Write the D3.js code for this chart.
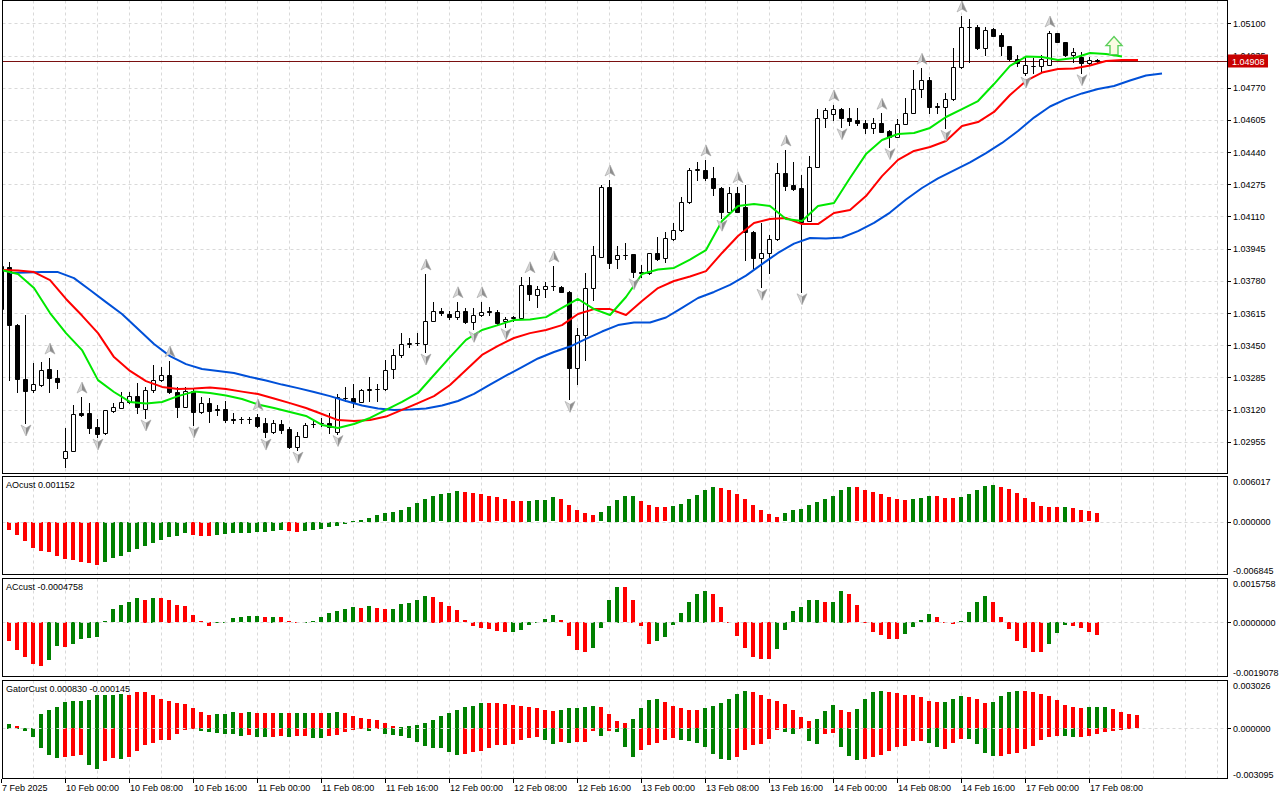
<!DOCTYPE html>
<html lang="en">
  <head>
    <meta charset="utf-8">
    <title>EURUSD, H1 - Alligator / AO / AC / Gator</title>
    <script src="https://cdn.jsdelivr.net/npm/d3@7/dist/d3.min.js" charset="utf-8"></script>
    <style type="text/css">
      body { margin:0; background:#fff; }
      svg { display:block; }
      text { font-family:"Liberation Sans", Arial, sans-serif; font-size:9px; fill:#000; }
    </style>
  </head>
  <body>
    <div id="main"></div>
<script type="text/javascript">

////////////////////////////////////////////////////////////////////////////////
/////////////////////////////////// data ///////////////////////////////////////
////////////////////////////////////////////////////////////////////////////////

// H1 candles, bar 0 = 7 Feb 16:00
var opens = [
  1.03635,1.03851,1.03553,1.03277,1.03220,1.03246,1.03328,1.03282,1.02871,1.02907,
  1.03102,1.03102,1.03030,1.03000,1.03112,1.03128,1.03159,1.03189,1.03123,1.03220,
  1.03271,1.03297,1.03210,1.03133,1.03215,1.03107,1.03153,1.03123,1.03123,1.03071,
  1.03071,1.03073,1.03082,1.03051,1.03005,1.03046,1.03020,1.02928,1.02979,1.03046,
  1.03049,1.03051,1.03005,1.03179,1.03179,1.03159,1.03220,1.03223,1.03225,1.03328,
  1.03400,1.03457,1.03461,1.03456,1.03575,1.03627,1.03610,1.03593,1.03627,1.03570,
  1.03605,1.03625,1.03618,1.03574,1.03592,1.03588,1.03757,1.03707,1.03737,1.03751,
  1.03750,1.03724,1.03331,1.03502,1.03742,1.03904,1.04260,1.03890,1.03912,1.03916,
  1.03827,1.03819,1.03921,1.03895,1.03993,1.04041,1.04186,1.04348,1.04348,1.04306,
  1.04254,1.04134,1.04229,1.04160,1.04032,1.03895,1.03924,1.03993,1.04331,1.04271,
  1.04254,1.04088,1.04365,1.04613,1.04635,1.04660,1.04613,1.04605,1.04591,1.04562,
  1.04588,1.04550,1.04519,1.04584,1.04642,1.04762,1.04810,1.04673,1.04670,1.04711,
  1.04878,1.05080,1.05080,1.04972,1.05070,1.05041,1.04984,1.04916,1.04847,1.04882,
  1.04882,1.04887,1.05049,1.05006,1.04938,1.04929,1.04895,1.04910]
var highs = [
  1.03871,1.03876,1.03559,1.03605,1.03359,1.03364,1.03384,1.03323,1.03025,1.03143,
  1.03184,1.03153,1.03071,1.03118,1.03153,1.03210,1.03210,1.03256,1.03236,1.03348,
  1.03338,1.03369,1.03236,1.03236,1.03230,1.03184,1.03179,1.03143,1.03164,1.03102,
  1.03082,1.03082,1.03097,1.03077,1.03066,1.03066,1.03030,1.03005,1.03051,1.03061,
  1.03077,1.03102,1.03200,1.03236,1.03251,1.03225,1.03287,1.03251,1.03374,1.03430,
  1.03512,1.03487,1.03512,1.03815,1.03673,1.03639,1.03627,1.03673,1.03639,1.03639,
  1.03673,1.03647,1.03630,1.03596,1.03600,1.03798,1.03801,1.03753,1.03775,1.03856,
  1.03753,1.03728,1.03537,1.03822,1.03959,1.04271,1.04297,1.03959,1.03972,1.03918,
  1.03861,1.03923,1.04003,1.04032,1.04078,1.04211,1.04357,1.04391,1.04400,1.04362,
  1.04263,1.04263,1.04263,1.04271,1.04035,1.04075,1.04015,1.04383,1.04451,1.04391,
  1.04323,1.04420,1.04660,1.04665,1.04682,1.04665,1.04665,1.04665,1.04605,1.04613,
  1.04639,1.04553,1.04608,1.04716,1.04861,1.04870,1.04824,1.04692,1.04742,1.04972,
  1.05138,1.05121,1.05092,1.05083,1.05075,1.05049,1.04986,1.04938,1.04921,1.04921,
  1.04938,1.05061,1.05052,1.05006,1.04972,1.04955,1.04926,1.04915]
var lows = [
  1.03620,1.03271,1.03210,1.03051,1.03210,1.03241,1.03210,1.03230,1.02825,1.02907,
  1.03087,1.03000,1.02979,1.02994,1.03107,1.03128,1.03153,1.03102,1.03077,1.03210,
  1.03266,1.03205,1.03082,1.03133,1.03041,1.03102,1.03056,1.03092,1.03056,1.03051,
  1.03051,1.03051,1.03030,1.02979,1.03000,1.03000,1.02923,1.02912,1.02979,1.03030,
  1.03036,1.03000,1.02997,1.03164,1.03133,1.03159,1.03164,1.03164,1.03220,1.03282,
  1.03389,1.03441,1.03451,1.03415,1.03574,1.03605,1.03583,1.03583,1.03562,1.03531,
  1.03602,1.03605,1.03553,1.03545,1.03576,1.03587,1.03682,1.03647,1.03699,1.03733,
  1.03721,1.03172,1.03251,1.03374,1.03682,1.03902,1.03844,1.03844,1.03890,1.03801,
  1.03800,1.03817,1.03887,1.03878,1.03989,1.04037,1.04181,1.04297,1.04297,1.04220,
  1.04101,1.04133,1.04133,1.03887,1.03844,1.03747,1.03819,1.03989,1.04246,1.04246,
  1.03724,1.04087,1.04364,1.04570,1.04605,1.04570,1.04579,1.04579,1.04536,1.04536,
  1.04543,1.04468,1.04517,1.04582,1.04639,1.04724,1.04639,1.04639,1.04562,1.04707,
  1.04870,1.04904,1.04967,1.04938,1.05035,1.04938,1.04912,1.04882,1.04835,1.04844,
  1.04852,1.04887,1.05005,1.04933,1.04904,1.04847,1.04892,1.04902]
var closes = [
  1.03856,1.03553,1.03277,1.03215,1.03251,1.03323,1.03282,1.03261,1.02907,1.03097,
  1.03092,1.03025,1.02994,1.03118,1.03133,1.03159,1.03189,1.03133,1.03220,1.03271,
  1.03297,1.03210,1.03133,1.03215,1.03107,1.03153,1.03112,1.03118,1.03066,1.03069,
  1.03073,1.03071,1.03036,1.03005,1.03051,1.03015,1.02928,1.02984,1.03041,1.03045,
  1.03051,1.03030,1.03184,1.03181,1.03159,1.03220,1.03223,1.03225,1.03323,1.03400,
  1.03456,1.03461,1.03459,1.03575,1.03627,1.03613,1.03593,1.03627,1.03570,1.03605,
  1.03622,1.03620,1.03562,1.03582,1.03593,1.03757,1.03711,1.03737,1.03753,1.03754,
  1.03724,1.03331,1.03502,1.03742,1.03912,1.04260,1.03870,1.03912,1.03915,1.03827,
  1.03820,1.03921,1.03892,1.03998,1.04041,1.04186,1.04348,1.04351,1.04306,1.04254,
  1.04134,1.04229,1.04134,1.04032,1.03895,1.03921,1.03993,1.04331,1.04266,1.04249,
  1.04083,1.04365,1.04613,1.04656,1.04660,1.04613,1.04601,1.04588,1.04562,1.04591,
  1.04545,1.04519,1.04584,1.04642,1.04762,1.04810,1.04673,1.04675,1.04711,1.04878,
  1.05080,1.05082,1.04972,1.05066,1.05037,1.04984,1.04916,1.04899,1.04887,1.04880,
  1.04916,1.05049,1.05006,1.04938,1.04952,1.04895,1.04912,1.04908]

// alligator, read every 2nd bar (jaw on odd bars 1..145, teeth/lips on even bars)
var lineStep = 2
var jawFirstBar = 1
var jawValues = [
  1.03820,1.03823,1.03825,1.03825,1.03794,1.03733,1.03671,1.03610,1.03533,1.03456,
  1.03394,1.03353,1.03328,1.03318,1.03307,1.03287,1.03269,1.03248,1.03230,1.03210,
  1.03189,1.03164,1.03141,1.03125,1.03118,1.03120,1.03125,1.03141,1.03164,1.03200,
  1.03248,1.03294,1.03338,1.03382,1.03415,1.03443,1.03482,1.03520,1.03553,1.03566,
  1.03566,1.03592,1.03641,1.03692,1.03723,1.03759,1.03807,1.03866,1.03923,1.03971,
  1.04000,1.03997,1.04002,1.04035,1.04077,1.04130,1.04197,1.04256,1.04305,1.04346,
  1.04387,1.04435,1.04487,1.04548,1.04617,1.04674,1.04712,1.04741,1.04764,1.04779,
  1.04807,1.04833,1.04843]
var teethFirstBar = 0
var teethValues = [
  1.03835,1.03833,1.03825,1.03784,1.03687,1.03602,1.03512,1.03389,1.03318,1.03266,
  1.03236,1.03225,1.03228,1.03233,1.03225,1.03212,1.03200,1.03177,1.03153,1.03128,
  1.03097,1.03066,1.03061,1.03066,1.03084,1.03118,1.03153,1.03189,1.03246,1.03323,
  1.03400,1.03446,1.03487,1.03512,1.03528,1.03553,1.03610,1.03635,1.03635,1.03605,
  1.03677,1.03743,1.03779,1.03802,1.03830,1.03923,1.04010,1.04077,1.04097,1.04102,
  1.04071,1.04071,1.04128,1.04143,1.04215,1.04317,1.04400,1.04446,1.04466,1.04497,
  1.04574,1.04594,1.04646,1.04733,1.04805,1.04848,1.04866,1.04869,1.04884,1.04907,
  1.04912,1.04912]
var lipsFirstBar = 0
var lipsValues = [
  1.03835,1.03815,1.03743,1.03615,1.03512,1.03425,1.03271,1.03210,1.03159,1.03151,
  1.03159,1.03189,1.03212,1.03205,1.03192,1.03174,1.03146,1.03128,1.03107,1.03087,
  1.03041,1.03025,1.03046,1.03077,1.03118,1.03159,1.03205,1.03297,1.03389,1.03477,
  1.03528,1.03553,1.03579,1.03582,1.03594,1.03641,1.03687,1.03635,1.03605,1.03697,
  1.03815,1.03838,1.03846,1.03889,1.03938,1.04087,1.04164,1.04174,1.04164,1.04097,
  1.04087,1.04164,1.04179,1.04307,1.04430,1.04502,1.04533,1.04538,1.04564,1.04620,
  1.04661,1.04702,1.04789,1.04882,1.04930,1.04928,1.04912,1.04923,1.04948,1.04943,
  1.04930]

// fractals (bar indexes)
var upFractals = [6,10,21,32,53,57,60,66,69,76,88,92,98,104,110,115,120,131]
var downFractals = [3,12,18,24,33,37,42,53,59,63,71,79,90,95,100,105,111,118,128,135]

// signal arrow
var signalBars = [139]
var signalPrices = [1.04940]

var lastPrice = 1.04908

var aoValues = [
  -0.0001,-0.0010,-0.0017,-0.0025,-0.0034,-0.0038,-0.0039,-0.0045,-0.0049,-0.0050,
  -0.0053,-0.0054,-0.0056,-0.0052,-0.0047,-0.0045,-0.0040,-0.0035,-0.0032,-0.0028,
  -0.0024,-0.0020,-0.0018,-0.0015,-0.0017,-0.0018,-0.0019,-0.0017,-0.0016,-0.0015,
  -0.00148,-0.0014,-0.00135,-0.0013,-0.0012,-0.0011,-0.0012,-0.00125,-0.0012,-0.0010,
  -0.0009,-0.0007,-0.0005,-0.0002,0.0001,0.0002,0.00055,0.0009,0.0011,0.0013,
  0.0016,0.0020,0.0025,0.0030,0.0034,0.0036,0.0038,0.0041,0.0039,0.0038,
  0.0036,0.0034,0.0032,0.0030,0.0028,0.00278,0.0028,0.00282,0.0029,0.0032,
  0.0030,0.00225,0.0016,0.00115,0.0009,0.00123,0.0021,0.0029,0.0034,0.00342,
  0.00276,0.00217,0.0020,0.0019,0.00204,0.0024,0.0030,0.0035,0.0042,0.0046,
  0.0044,0.0042,0.0037,0.0030,0.00225,0.0016,0.0010,0.0007,0.0011,0.0016,
  0.00175,0.00225,0.0026,0.0030,0.0034,0.0042,0.00455,0.00452,0.0042,0.0039,
  0.00365,0.0033,0.0030,0.0029,0.0030,0.00315,0.0034,0.00338,0.00315,0.00313,
  0.0033,0.0037,0.0042,0.0047,0.0048,0.00455,0.0043,0.0038,0.00315,0.0026,
  0.0021,0.0020,0.00198,0.0020,0.00187,0.0016,0.00136,0.001152]

var acValues = [
  -0.00038,-0.00067,-0.00099,-0.00123,-0.00151,-0.00158,-0.00134,-0.00085,-0.00088,-0.00078,
  -0.0006,-0.00057,-0.00053,0.00005,0.00046,0.0006,0.00074,0.00085,0.00081,0.00088,
  0.00085,0.00081,0.0006,0.00057,0.00026,0.00003,-0.00015,-0.00003,0.00002,0.00015,
  0.00019,0.00022,0.00023,0.00019,0.0002,0.00019,0.00003,-0.00002,0.00001,0.00005,
  0.00019,0.00033,0.0004,0.00046,0.00053,0.0005,0.00057,0.0005,0.00046,0.00047,
  0.00064,0.00067,0.00078,0.00092,0.00091,0.00074,0.00057,0.00043,0.00008,-0.00015,
  -0.00021,-0.00026,-0.00033,-0.00036,-0.00035,-0.00029,-0.0001,-0.00002,0.00012,0.00026,
  0.00008,-0.0005,-0.00099,-0.00106,-0.00092,-0.00022,0.00078,0.00127,0.00126,0.00081,
  -0.00015,-0.00078,-0.00067,-0.00052,-0.00012,0.00033,0.00071,0.00099,0.00113,0.00099,
  0.00053,-0.00001,-0.0005,-0.00092,-0.00123,-0.0013,-0.00131,-0.00095,-0.00029,0.0004,
  0.00053,0.00078,0.00081,0.00071,0.00074,0.00113,0.00102,0.0006,-0.00001,-0.00036,
  -0.00046,-0.0006,-0.00061,-0.00043,-0.00019,0.00008,0.00029,0.00019,-0.00001,-0.00008,
  0.00005,0.00036,0.00071,0.00092,0.00071,0.00019,-0.00026,-0.00067,-0.00092,-0.00106,
  -0.00107,-0.00078,-0.0004,-0.00012,-0.00015,-0.00022,-0.00036,-0.0004758]

// gator: upper runs to bar 142, lower to bar 140
var gatorUp = [
  0.00025,0.00025,0.00014,0.00004,0.00002,0.00091,0.00117,0.00132,0.00167,0.00173,
  0.00174,0.00175,0.00210,0.00211,0.00212,0.00213,0.00210,0.00229,0.00229,0.00210,
  0.00187,0.00169,0.00159,0.00150,0.00126,0.00103,0.00082,0.00089,0.00090,0.00101,
  0.00097,0.00101,0.00097,0.00096,0.00095,0.00097,0.00096,0.00097,0.00098,0.00096,
  0.00095,0.00097,0.00101,0.00097,0.00080,0.00068,0.00060,0.00052,0.00035,0.00014,
  0.00010,0.00014,0.00019,0.00035,0.00052,0.00076,0.00097,0.00113,0.00134,0.00142,
  0.00159,0.00158,0.00157,0.00155,0.00148,0.00142,0.00134,0.00126,0.00113,0.00107,
  0.00117,0.00126,0.00130,0.00131,0.00138,0.00137,0.00093,0.00045,0.00031,0.00056,
  0.00126,0.00175,0.00181,0.00163,0.00138,0.00126,0.00117,0.00116,0.00126,0.00138,
  0.00157,0.00187,0.00216,0.00231,0.00230,0.00206,0.00181,0.00169,0.00150,0.00113,
  0.00070,0.00045,0.00062,0.00107,0.00144,0.00113,0.00101,0.00119,0.00187,0.00225,
  0.00231,0.00225,0.00224,0.00212,0.00206,0.00194,0.00169,0.00163,0.00164,0.00181,
  0.00200,0.00199,0.00181,0.00157,0.00163,0.00200,0.00225,0.00237,0.00231,0.00230,
  0.00218,0.00200,0.00175,0.00148,0.00132,0.00126,0.00132,0.00134,0.00136,0.00122,
  0.00105,0.00091,0.00083]
var gatorUpColors = ("ggrrr" + "ggggggggggg" + "rrrrrrrrrrr" + "ggg" + "r" + "g" + "rrr" + "g" +
  "r" + "gg" + "rr" + "gg" + "rrrrrrr" + "ggggggggggg" + "rrrrrrrrr" + "ggggg" + "rrrr" +
  "gggg" + "rrrrr" + "gggggg" + "rrrrrrrr" + "ggg" + "rr" + "gggg" + "rrrrrrr" + "ggg" +
  "rrr" + "gggg" + "rrrrrrrr" + "ggg" + "rrrr").split("")
var gatorDown = [
  -0.00006,-0.00006,-0.00006,-0.00016,-0.00058,-0.00126,-0.00171,-0.00187,-0.00181,-0.00175,
  -0.00171,-0.00233,-0.00258,-0.00208,-0.00187,-0.00191,-0.00181,-0.00146,-0.00109,-0.00093,
  -0.00076,-0.00072,-0.00039,-0.00012,-0.00003,-0.00021,-0.00027,-0.00033,-0.00039,-0.00040,
  -0.00047,-0.00046,-0.00054,-0.00055,-0.00054,-0.00053,-0.00054,-0.00053,-0.00052,-0.00060,
  -0.00064,-0.00052,-0.00041,-0.00023,-0.00010,-0.00006,-0.00016,-0.00006,-0.00039,-0.00041,
  -0.00052,-0.00064,-0.00089,-0.00115,-0.00126,-0.00127,-0.00150,-0.00171,-0.00163,-0.00150,
  -0.00146,-0.00126,-0.00109,-0.00108,-0.00099,-0.00078,-0.00064,-0.00058,-0.00072,-0.00097,
  -0.00089,-0.00095,-0.00089,-0.00088,-0.00019,-0.00047,-0.00021,-0.00027,-0.00119,-0.00181,
  -0.00140,-0.00109,-0.00095,-0.00072,-0.00064,-0.00076,-0.00082,-0.00095,-0.00119,-0.00163,
  -0.00194,-0.00200,-0.00181,-0.00138,-0.00107,-0.00101,-0.00070,-0.00012,-0.00027,-0.00039,
  -0.00006,-0.00082,-0.00101,-0.00037,-0.00031,-0.00119,-0.00175,-0.00200,-0.00192,-0.00181,
  -0.00169,-0.00144,-0.00119,-0.00113,-0.00082,-0.00081,-0.00095,-0.00119,-0.00132,-0.00095,
  -0.00070,-0.00071,-0.00101,-0.00157,-0.00175,-0.00174,-0.00163,-0.00157,-0.00132,-0.00113,
  -0.00076,-0.00058,-0.00047,-0.00048,-0.00058,-0.00054,-0.00047,-0.00039,-0.00028,-0.00021,
  -0.000145]
var gatorDownColors = ("gggggggg" + "rrr" + "gg" + "rr" + "g" + "rrrrrrrrr" + "gggggg" + "r" +
  "gg" + "rr" + "g" + "rr" + "gg" + "rrrrr" + "g" + "r" + "gggggggggg" + "rrrrrrrrrr" + "gg" +
  "r" + "g" + "rrr" + "g" + "r" + "ggg" + "rrrrr" + "ggggggg" + "rrrrrr" + "gg" + "r" + "gg" +
  "rr" + "ggg" + "rrrrrrrr" + "gg" + "rrr" + "gggg" + "rrrrrrrr" + "gg" + "rrrrrr").split("")

// axis labels
var priceTicks = [1.02955,1.03120,1.03285,1.03450,1.03615,1.03780,1.03945,1.04110,
  1.04275,1.04440,1.04605,1.04770,1.04935,1.05100]
var aoAxis = [0.006017, 0, -0.006845]
var acAxis = [0.0015758, 0, -0.0019078]
var gatorAxis = [0.003026, 0, -0.003095]
var timeLabels = ["7 Feb 2025","10 Feb 00:00","10 Feb 08:00","10 Feb 16:00","11 Feb 00:00",
  "11 Feb 08:00","11 Feb 16:00","12 Feb 00:00","12 Feb 08:00","12 Feb 16:00","13 Feb 00:00",
  "13 Feb 08:00","13 Feb 16:00","14 Feb 00:00","14 Feb 08:00","14 Feb 16:00","17 Feb 00:00",
  "17 Feb 08:00"]
var timeLabelStep = 8

////////////////////////////////////////////////////////////////////////////////
/////////////////////////////////// chart //////////////////////////////////////
////////////////////////////////////////////////////////////////////////////////

var GREEN = "#008000", RED = "#ff0000", GRID = "#d9d9d9"
var plotLeft = 2.5, plotRight = 1227.5

var svg = d3.select("#main").append("svg").attr("width", 1280).attr("height", 800)
svg.append("rect").attr("width", 1280).attr("height", 800).attr("fill", "#fff")

var x = d3.scaleLinear().domain([0, 153]).range([2, 1226])
function cx(i){ return Math.round(x(i)) - 0.5 }

var panels = [
  {id:"main", top:0.5, bottom:473.5},
  {id:"ao", top:476.5, bottom:574.5},
  {id:"ac", top:578.5, bottom:676.5},
  {id:"gator", top:680.5, bottom:778.5}
]

var yMain = d3.scaleLinear().domain([1.027947, 1.0522]).range([473, 0])
var yAO = d3.scaleLinear().domain([aoAxis[2], aoAxis[0]]).range([574, 476])
var yAC = d3.scaleLinear().domain([acAxis[2], acAxis[0]]).range([676, 578])
var yGator = d3.scaleLinear().domain([gatorAxis[2], gatorAxis[0]]).range([778, 680])

var defs = svg.append("defs")
panels.forEach(function(p){
  defs.append("clipPath").attr("id", "clip-" + p.id).append("rect")
    .attr("x", plotLeft).attr("y", p.top).attr("width", plotRight - plotLeft).attr("height", p.bottom - p.top)
})

// vertical grid in every panel
panels.forEach(function(p){
  svg.append("g").attr("clip-path", "url(#clip-" + p.id + ")")
    .selectAll("line").data(d3.range(0, 154, 4)).join("line")
    .attr("x1", cx).attr("x2", cx).attr("y1", p.top).attr("y2", p.bottom)
    .attr("stroke", GRID).attr("stroke-dasharray", "3,3")
})

// horizontal price grid
svg.append("g").selectAll("line").data(priceTicks).join("line")
  .attr("x1", plotLeft).attr("x2", plotRight)
  .attr("y1", function(d){ return Math.round(yMain(d)) + 0.5 })
  .attr("y2", function(d){ return Math.round(yMain(d)) + 0.5 })
  .attr("stroke", GRID).attr("stroke-dasharray", "3,3")

//////////////////////////////// main panel ////////////////////////////////////

var main = svg.append("g").attr("clip-path", "url(#clip-main)")

// last price line
var lastY = Math.round(yMain(lastPrice)) + 0.5
main.append("line").attr("x1", plotLeft).attr("x2", plotRight).attr("y1", lastY).attr("y2", lastY)
  .attr("stroke", "#7a1010").attr("stroke-width", 1)

var candles = opens.map(function(o, i){
  return {i:i, o:o, h:highs[i], l:lows[i], c:closes[i]}
})

main.append("g").selectAll("line").data(candles).join("line")
  .attr("x1", function(d){ return cx(d.i) }).attr("x2", function(d){ return cx(d.i) })
  .attr("y1", function(d){ return Math.round(yMain(d.h)) })
  .attr("y2", function(d){ return Math.round(yMain(d.l)) + 1 })
  .attr("stroke", "#000")

main.append("g").selectAll("path").data(candles).join("path")
  .attr("d", function(d){
    var c = cx(d.i)
    var y1 = Math.round(yMain(Math.max(d.o, d.c))) + 0.5
    var y2 = Math.round(yMain(Math.min(d.o, d.c))) + 0.5
    return "M" + (c - 2) + "," + y1 + "H" + (c + 2) + "V" + y2 + "H" + (c - 2) + "Z"
  })
  .attr("fill", function(d){ return d.c >= d.o ? "#fff" : "#000" })
  .attr("stroke", "#000")

// alligator
function linePoints(values, first){
  return values.map(function(v, k){ return {bar:first + k * lineStep, v:v} })
}
var alligator = d3.line().x(function(d){ return x(d.bar) }).y(function(d){ return yMain(d.v) })
var lines = [
  {pts:linePoints(jawValues, jawFirstBar), color:"#0050d8"},
  {pts:linePoints(teethValues, teethFirstBar), color:"#ff0000"},
  {pts:linePoints(lipsValues, lipsFirstBar), color:"#00e800"}
]
main.append("g").selectAll("path").data(lines).join("path")
  .attr("d", function(d){ return alligator(d.pts) })
  .attr("fill", "none").attr("stroke", function(d){ return d.color }).attr("stroke-width", 2)
  .attr("stroke-linejoin", "round")

// fractal arrows
function fractal(g, dir){
  var s = dir
  g.append("path").attr("d", "M0," + (-6*s) + "L-5," + (5*s) + "L0," + (2*s) + "Z").attr("fill", "#d4d4d4")
  g.append("path").attr("d", "M0," + (-6*s) + "L5," + (5*s) + "L0," + (2*s) + "Z").attr("fill", "#8e8e8e")
  g.append("path").attr("d", "M0," + (-6*s) + "L5," + (5*s) + "L0," + (2*s) + "L-5," + (5*s) + "Z")
    .attr("fill", "none").attr("stroke", "#a4a4a4").attr("stroke-width", 0.6)
}
main.append("g").selectAll("g").data(upFractals).join("g")
  .attr("transform", function(d){ return "translate(" + x(d) + "," + (yMain(highs[d]) - 9) + ")" })
  .each(function(){ fractal(d3.select(this), 1) })
main.append("g").selectAll("g").data(downFractals).join("g")
  .attr("transform", function(d){ return "translate(" + x(d) + "," + (yMain(lows[d]) + 7) + ")" })
  .each(function(){ fractal(d3.select(this), -1) })

// signal arrow
main.append("g").selectAll("path").data(signalBars).join("path")
  .attr("d", function(d, i){
    var c = x(d), b = yMain(signalPrices[i])
    return "M" + (c-4) + "," + b + "V" + (b-9) + "H" + (c-8) + "L" + c + "," + (b-18) +
      "L" + (c+8) + "," + (b-9) + "H" + (c+4) + "V" + b + "Z"
  })
  .attr("fill", "#fbfbe2").attr("stroke", "#5ccf5c").attr("stroke-width", 1.4)

///////////////////////////////// sub panels ///////////////////////////////////

function histogram(id, values, y, colors){
  var g = svg.append("g").attr("clip-path", "url(#clip-" + id + ")")
  var y0 = y(0)
  g.selectAll("rect").data(values).join("rect")
    .attr("x", function(d, i){ return Math.round(x(i)) - 3 })
    .attr("width", 4)
    .attr("y", function(d){ return Math.round(Math.min(y(d), y0)) })
    .attr("height", function(d){ return Math.max(1, Math.round(Math.abs(y(d) - y0))) })
    .attr("fill", function(d, i){ return colors(d, i) })
  return g
}
function changeColor(values){
  return function(d, i){ return i > 0 && d > values[i - 1] ? GREEN : RED }
}
function zeroLine(id, y){
  var z = Math.round(y(0)) + 0.5
  svg.append("line").attr("x1", plotLeft).attr("x2", plotRight).attr("y1", z).attr("y2", z)
    .attr("stroke", GRID).attr("stroke-dasharray", "3,3")
}

histogram("ao", aoValues, yAO, changeColor(aoValues))
zeroLine("ao", yAO)
histogram("ac", acValues, yAC, changeColor(acValues))
zeroLine("ac", yAC)
histogram("gator", gatorUp, yGator, function(d, i){ return gatorUpColors[i] === "g" ? GREEN : RED })
histogram("gator", gatorDown, yGator, function(d, i){ return gatorDownColors[i] === "g" ? GREEN : RED })
zeroLine("gator", yGator)

// panel titles
svg.append("text").attr("x", 6).attr("y", 488).text("AOcust " + aoValues[aoValues.length - 1].toFixed(6))
svg.append("text").attr("x", 6).attr("y", 590).text("ACcust " + acValues[acValues.length - 1].toFixed(7))
svg.append("text").attr("x", 6).attr("y", 692)
  .text("GatorCust " + gatorUp[gatorUp.length - 1].toFixed(6) + " " + gatorDown[gatorDown.length - 1].toFixed(6))

// frames
panels.forEach(function(p){
  svg.append("rect").attr("x", plotLeft).attr("y", p.top)
    .attr("width", plotRight - plotLeft).attr("height", p.bottom - p.top)
    .attr("fill", "none").attr("stroke", "#000")
})

////////////////////////////////// axes ////////////////////////////////////////

var axis = svg.append("g")
axis.selectAll("line.pt").data(priceTicks).join("line").attr("class", "pt")
  .attr("x1", 1228).attr("x2", 1231)
  .attr("y1", function(d){ return Math.round(yMain(d)) + 0.5 })
  .attr("y2", function(d){ return Math.round(yMain(d)) + 0.5 })
  .attr("stroke", "#000")
axis.selectAll("text.pt").data(priceTicks).join("text").attr("class", "pt")
  .attr("x", 1233).attr("y", function(d){ return yMain(d) + 3.5 })
  .text(function(d){ return d.toFixed(5) })

function subAxis(vals, y, digits, p){
  var z = Math.round(y(0)) + 0.5
  axis.append("line").attr("x1", 1228).attr("x2", 1231).attr("y1", z).attr("y2", z).attr("stroke", "#000")
  axis.append("text").attr("x", 1233).attr("y", p.top + 8).text(vals[0].toFixed(digits))
  axis.append("text").attr("x", 1233).attr("y", y(0) + 3.5).text(vals[1].toFixed(digits))
  axis.append("text").attr("x", 1233).attr("y", p.bottom - 1).text(vals[2].toFixed(digits))
}
subAxis(aoAxis, yAO, 6, panels[1])
subAxis(acAxis, yAC, 7, panels[2])
subAxis(gatorAxis, yGator, 6, panels[3])

// last price tag
axis.append("rect").attr("x", 1228).attr("y", lastY - 7).attr("width", 40).attr("height", 13)
  .attr("fill", "#c80000")
axis.append("text").attr("x", 1232).attr("y", lastY + 3.5).style("fill", "#fff").text(lastPrice.toFixed(5))

// time axis
var tl = axis.selectAll("g.tl").data(timeLabels).join("g").attr("class", "tl")
  .attr("transform", function(d, i){ return "translate(" + cx(i * timeLabelStep) + ",0)" })
tl.append("line").attr("y1", 779).attr("y2", 783).attr("stroke", "#000")
tl.append("text").attr("x", 0.5).attr("y", 791).text(function(d){ return d })

</script>
  </body>
</html>
